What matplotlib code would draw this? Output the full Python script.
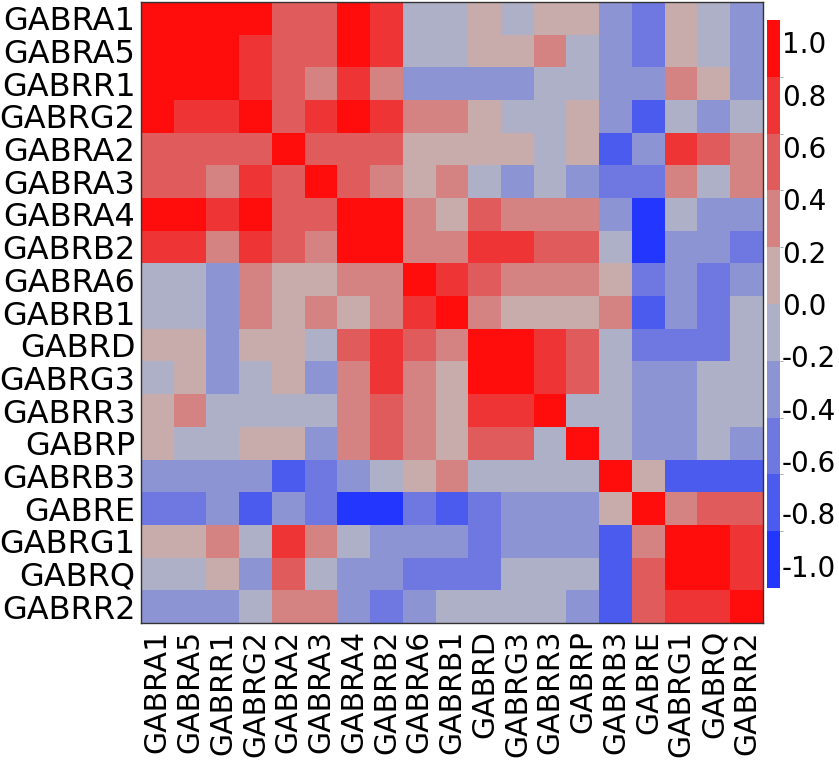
import numpy as np
import matplotlib
matplotlib.use('Agg')
import matplotlib.pyplot as plt
from matplotlib.colors import ListedColormap, BoundaryNorm
from matplotlib.cm import ScalarMappable

plt.rcParams['font.family'] = ['DejaVu Sans']
plt.rcParams['axes.unicode_minus'] = False

genes = ['GABRA1', 'GABRA5', 'GABRR1', 'GABRG2', 'GABRA2', 'GABRA3', 'GABRA4',
         'GABRB2', 'GABRA6', 'GABRB1', 'GABRD', 'GABRG3', 'GABRR3', 'GABRP',
         'GABRB3', 'GABRE', 'GABRG1', 'GABRQ', 'GABRR2']

# correlation values (binned colours -> estimated values)
corr = [
    [1.00, 0.95, 0.95, 0.95, 0.55, 0.55, 0.95, 0.75, -0.1, -0.1, 0.1, -0.1, 0.1, 0.1, -0.3, -0.55, 0.1, -0.1, -0.3],
    [0.95, 1.00, 0.95, 0.75, 0.55, 0.55, 0.95, 0.75, -0.1, -0.1, 0.1, 0.1, 0.3, -0.1, -0.3, -0.55, 0.1, -0.1, -0.3],
    [0.95, 0.95, 1.00, 0.75, 0.55, 0.3, 0.75, 0.3, -0.3, -0.3, -0.3, -0.3, -0.1, -0.1, -0.3, -0.3, 0.3, 0.1, -0.3],
    [0.95, 0.75, 0.75, 1.00, 0.55, 0.75, 0.95, 0.75, 0.3, 0.3, 0.1, -0.1, -0.1, 0.1, -0.3, -0.75, -0.1, -0.3, -0.1],
    [0.55, 0.55, 0.55, 0.55, 1.00, 0.55, 0.55, 0.55, 0.1, 0.1, 0.1, 0.1, -0.1, 0.1, -0.75, -0.3, 0.75, 0.55, 0.3],
    [0.55, 0.55, 0.3, 0.75, 0.55, 1.00, 0.55, 0.3, 0.1, 0.3, -0.1, -0.3, -0.1, -0.3, -0.55, -0.55, 0.3, -0.1, 0.3],
    [0.95, 0.95, 0.75, 0.95, 0.55, 0.55, 1.00, 0.95, 0.3, 0.1, 0.55, 0.3, 0.3, 0.3, -0.3, -0.95, -0.1, -0.3, -0.3],
    [0.75, 0.75, 0.3, 0.75, 0.55, 0.3, 0.95, 1.00, 0.3, 0.3, 0.75, 0.75, 0.55, 0.55, -0.1, -0.95, -0.3, -0.3, -0.55],
    [-0.1, -0.1, -0.3, 0.3, 0.1, 0.1, 0.3, 0.3, 1.00, 0.75, 0.55, 0.3, 0.3, 0.3, 0.1, -0.55, -0.3, -0.55, -0.3],
    [-0.1, -0.1, -0.3, 0.3, 0.1, 0.3, 0.1, 0.3, 0.75, 1.00, 0.3, 0.1, 0.1, 0.1, 0.3, -0.75, -0.3, -0.55, -0.1],
    [0.1, 0.1, -0.3, 0.1, 0.1, -0.1, 0.55, 0.75, 0.55, 0.3, 1.00, 0.95, 0.75, 0.55, -0.1, -0.55, -0.55, -0.55, -0.1],
    [-0.1, 0.1, -0.3, -0.1, 0.1, -0.3, 0.3, 0.75, 0.3, 0.1, 0.95, 1.00, 0.75, 0.55, -0.1, -0.3, -0.3, -0.1, -0.1],
    [0.1, 0.3, -0.1, -0.1, -0.1, -0.1, 0.3, 0.55, 0.3, 0.1, 0.75, 0.75, 1.00, -0.1, -0.1, -0.3, -0.3, -0.1, -0.1],
    [0.1, -0.1, -0.1, 0.1, 0.1, -0.3, 0.3, 0.55, 0.3, 0.1, 0.55, 0.55, -0.1, 1.00, -0.1, -0.3, -0.3, -0.1, -0.3],
    [-0.3, -0.3, -0.3, -0.3, -0.75, -0.55, -0.3, -0.1, 0.1, 0.3, -0.1, -0.1, -0.1, -0.1, 1.00, 0.1, -0.75, -0.75, -0.75],
    [-0.55, -0.55, -0.3, -0.75, -0.3, -0.55, -0.95, -0.95, -0.55, -0.75, -0.55, -0.3, -0.3, -0.3, 0.1, 1.00, 0.3, 0.55, 0.55],
    [0.1, 0.1, 0.3, -0.1, 0.75, 0.3, -0.1, -0.3, -0.3, -0.3, -0.55, -0.3, -0.3, -0.3, -0.75, 0.3, 1.00, 0.95, 0.75],
    [-0.1, -0.1, 0.1, -0.3, 0.55, -0.1, -0.3, -0.3, -0.55, -0.55, -0.55, -0.1, -0.1, -0.1, -0.75, 0.55, 0.95, 1.00, 0.75],
    [-0.3, -0.3, -0.3, -0.1, 0.3, 0.3, -0.3, -0.55, -0.3, -0.1, -0.1, -0.1, -0.1, -0.3, -0.75, 0.55, 0.75, 0.75, 1.00],
]

cbar_ticks = [-1.0, -0.8, -0.6, -0.4, -0.2, 0.0, 0.2, 0.4, 0.6, 0.8, 1.0]

# 10 discrete colour steps, blue (low) to red (high)
colors = ['#2236fe', '#4a5bee', '#6e78e0', '#8c94d4', '#adb0c6',
          '#c8abab', '#d58282', '#e05c5c', '#ee3434', '#ff0d0d']
bounds = np.linspace(-1.085, 1.085, 11)
cmap = ListedColormap(colors)
norm = BoundaryNorm(bounds, cmap.N)

data = np.array(corr)

fig = plt.figure(figsize=(8.39, 7.64), dpi=100)
ax = fig.add_axes([141 / 839, 1 - 623 / 764, 622 / 839, 621 / 764])
ax.imshow(data, cmap=cmap, norm=norm, aspect='auto', interpolation='nearest')

ax.set_xticks(range(len(genes)))
ax.set_yticks(range(len(genes)))
ax.set_xticklabels(genes, rotation=90, fontsize=21.5)
ax.set_yticklabels(genes, fontsize=23)
ax.tick_params(axis='both', length=0)
ax.tick_params(axis='x', pad=5)
ax.tick_params(axis='y', pad=4)
for sp in ax.spines.values():
    sp.set_color('#333333')
    sp.set_linewidth(1)

cax = fig.add_axes([767 / 839, 1 - 588 / 764, 13 / 839, 568 / 764])
sm = ScalarMappable(norm=norm, cmap=cmap)
cb = fig.colorbar(sm, cax=cax, boundaries=bounds, ticks=cbar_ticks)
cb.outline.set_visible(False)
cb.ax.set_yticklabels(['%.1f' % t for t in cbar_ticks], fontsize=20)
cb.ax.tick_params(length=0, pad=1.5)
cb.ax.set_yticks(bounds[1:-1], minor=True)
cb.ax.tick_params(which='minor', length=2, width=0.6, color='#999999')

fig.savefig('out.png', dpi=100)
